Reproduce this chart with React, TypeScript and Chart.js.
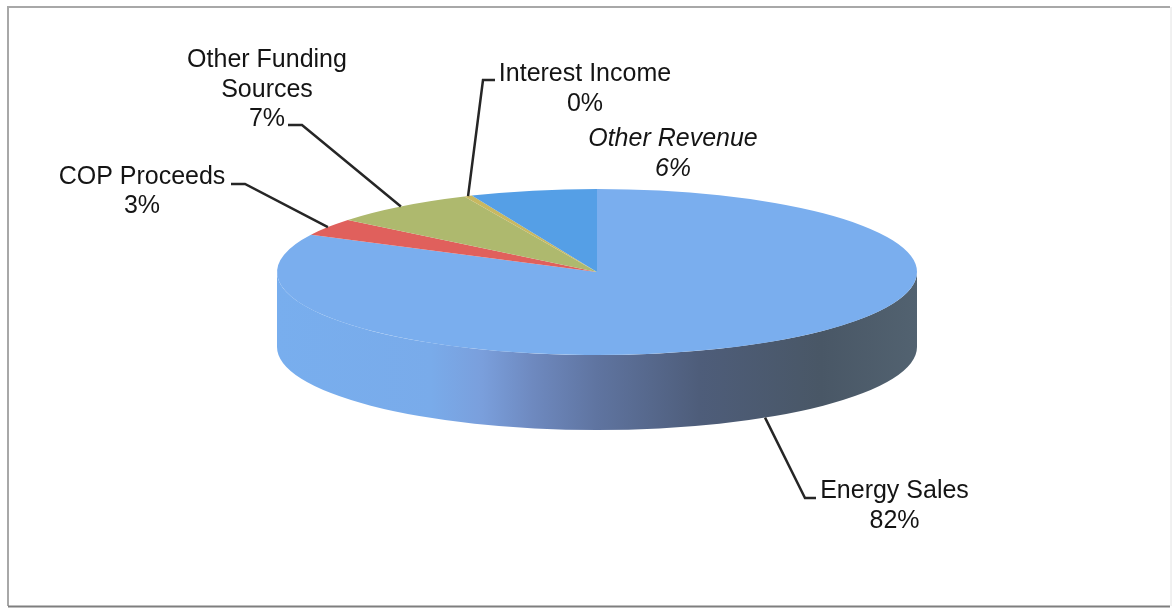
import React, { useEffect, useRef } from "react";
import { Chart, registerables } from "chart.js";

Chart.register(...registerables);

// Revenue shares, in percent
const categories = ["Energy Sales", "COP Proceeds", "Other Funding Sources", "Interest Income", "Other Revenue"];
const shares = [82.4, 3.4, 7.4, 0.4, 6.4];
const sliceColors = ["#7aaeee", "#e0605c", "#aeb96e", "#c9b860", "#559fe6"];

// Wrapped caption text for each category
const captionLines = [["Energy Sales"], ["COP Proceeds"], ["Other Funding", "Sources"], ["Interest Income"], ["Other Revenue"]];
const captionItalic = [false, false, false, false, true];

// Caption placement: centre x, first baseline, and the leader's elbow and tail
const captionLayout = [
  { x: 894.5, y: 498, elbow: [805, 498], tail: [816, 498] },
  { x: 142, y: 183.5, elbow: [245, 184], tail: [231, 184] },
  { x: 267, y: 67, elbow: [302, 125], tail: [288, 125] },
  { x: 585, y: 81, elbow: [483, 80], tail: [495, 80] },
  { x: 673, y: 146, elbow: null, tail: null },
];

// Shape of the tilted disc
const CENTER_X = 597;
const CENTER_Y = 272;
const RADIUS_X = 320;
const RADIUS_Y = 83;
const DEPTH = 75;
const BASE_RADIUS = 100;
const FONT_SIZE = 25;
const LINE_HEIGHT = 29.5;

const tiltedDisc = {
  id: "tiltedDisc",
  beforeDraw(chart: any) {
    const { ctx, width, height } = chart;
    ctx.save();
    ctx.fillStyle = "#ffffff";
    ctx.fillRect(0, 0, width, height);
    ctx.lineWidth = 2;
    ctx.strokeStyle = "#a8a8a8";
    ctx.beginPath();
    ctx.moveTo(8, 606);
    ctx.lineTo(8, 7);
    ctx.lineTo(1170, 7);
    ctx.stroke();
    ctx.strokeStyle = "#7e7e7e";
    ctx.beginPath();
    ctx.moveTo(8, 606.5);
    ctx.lineTo(1170, 606.5);
    ctx.stroke();
    ctx.strokeStyle = "#e2e2e2";
    ctx.lineWidth = 1;
    ctx.beginPath();
    ctx.moveTo(1171, 7);
    ctx.lineTo(1171, 606);
    ctx.stroke();
    ctx.restore();
  },
  beforeDatasetsDraw(chart: any) {
    const { ctx } = chart;
    const arc = chart.getDatasetMeta(0).data[0];
    const cx = arc.x;
    const cy = arc.y;
    const rx = RADIUS_X;
    const ry = RADIUS_Y;

    // Front wall of the disc, shaded from left to right
    const wall = ctx.createLinearGradient(cx - rx, 0, cx + rx, 0);
    wall.addColorStop(0, "#78aeee");
    wall.addColorStop(0.24, "#79abea");
    wall.addColorStop(0.32, "#7a9fdc");
    wall.addColorStop(0.4, "#6e89bf");
    wall.addColorStop(0.5, "#5f74a0");
    wall.addColorStop(0.66, "#4e5d7a");
    wall.addColorStop(0.85, "#495766");
    wall.addColorStop(1, "#526270");
    ctx.save();
    ctx.fillStyle = wall;
    ctx.beginPath();
    ctx.moveTo(cx - rx, cy);
    ctx.lineTo(cx - rx, cy + DEPTH);
    ctx.ellipse(cx, cy + DEPTH, rx, ry, 0, Math.PI, 0, true);
    ctx.lineTo(cx + rx, cy);
    ctx.ellipse(cx, cy, rx, ry, 0, 0, Math.PI, false);
    ctx.closePath();
    ctx.fill();
    ctx.restore();

    // Squash the round pie into the disc's top face
    ctx.save();
    ctx.translate(cx, cy);
    ctx.scale(rx / arc.outerRadius, ry / arc.outerRadius);
    ctx.translate(-cx, -cy);
  },
  afterDatasetsDraw(chart: any) {
    const { ctx } = chart;
    ctx.restore();

    const arcs = chart.getDatasetMeta(0).data;
    ctx.save();
    ctx.textAlign = "center";
    ctx.textBaseline = "alphabetic";
    ctx.fillStyle = "#141414";
    ctx.strokeStyle = "#262626";
    ctx.lineWidth = 2.5;
    arcs.forEach((arc: any, i: number) => {
      const layout = captionLayout[i];
      const style = captionItalic[i] ? "italic " : "";
      ctx.font = `${style}${FONT_SIZE}px "Liberation Sans", Arial, sans-serif`;
      const lines = [...captionLines[i], `${Math.round(shares[i])}%`];
      lines.forEach((line, k) => {
        ctx.fillText(line, layout.x, layout.y + k * LINE_HEIGHT);
      });
      if (layout.elbow && layout.tail) {
        const mid = (arc.startAngle + arc.endAngle) / 2;
        const sin = Math.sin(mid);
        const ax = arc.x + RADIUS_X * Math.cos(mid);
        const ay = arc.y + RADIUS_Y * sin + (sin > 0 ? DEPTH : 0);
        ctx.beginPath();
        ctx.moveTo(ax, ay);
        ctx.lineTo(layout.elbow[0], layout.elbow[1]);
        ctx.lineTo(layout.tail[0], layout.tail[1]);
        ctx.stroke();
      }
    });
    ctx.restore();
  },
};

export default function App() {
  const canvasRef = useRef<HTMLCanvasElement | null>(null);

  useEffect(() => {
    const canvas = canvasRef.current;
    if (!canvas) return;
    const W = 1173;
    const H = 608;
    const chart = new Chart(canvas, {
      type: "pie",
      data: {
        labels: categories,
        datasets: [
          {
            data: shares,
            backgroundColor: sliceColors,
            borderWidth: 0,
            clip: false,
          } as any,
        ],
      },
      options: {
        responsive: false,
        animation: false,
        layout: {
          padding: {
            left: CENTER_X - BASE_RADIUS,
            right: W - CENTER_X - BASE_RADIUS,
            top: CENTER_Y - BASE_RADIUS,
            bottom: H - CENTER_Y - BASE_RADIUS,
          },
        },
        plugins: {
          legend: { display: false },
          tooltip: { enabled: false },
        },
      },
      plugins: [tiltedDisc],
    });
    return () => chart.destroy();
  }, []);

  return (
    <div style={{ position: "absolute", left: 0, top: 0, width: 1173, height: 608 }}>
      <canvas ref={canvasRef} width={1173} height={608} style={{ display: "block" }} />
    </div>
  );
}
